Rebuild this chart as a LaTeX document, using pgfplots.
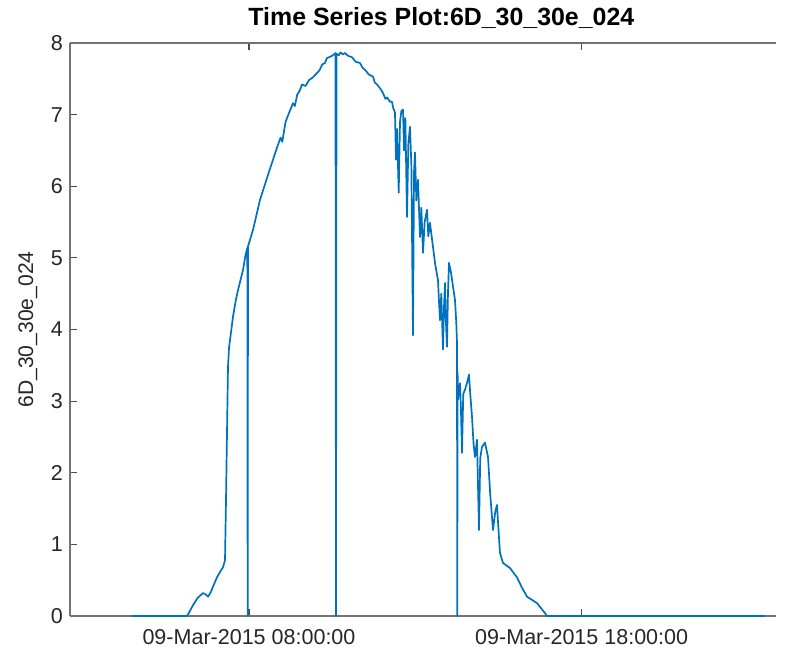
\documentclass[border=0pt]{standalone}
\usepackage{fontspec}
\setmainfont{Liberation Sans}
\usepackage{pgfplots}
\pgfplotsset{compat=1.18}
\definecolor{mblue}{rgb}{0,0.447,0.741}
\begin{document}
\begin{tikzpicture}
\useasboundingbox (-35bp,-16bp) rectangle (358bp,308bp);
\begin{axis}[
  at={(0,0)}, anchor=south west,
  scale only axis,
  width=353bp, height=286.5bp,
  xmin=2.62, xmax=23.84,
  ymin=0, ymax=8,
  axis x line*=box, axis y line*=left,
  xtick={8,18},
  xticklabels={09-Mar-2015 08:00:00, 09-Mar-2015 18:00:00},
  ytick={0,1,2,3,4,5,6,7,8},
  tick align=inside,
  major tick length=3.5bp,
  axis line style={black!55, line width=0.6bp},
  tick style={black!70, line width=0.6bp},
  tick label style={font=\fontsize{10.8}{12}\selectfont, text=black!85},
  /pgf/number format/assume math mode=true,
  xticklabel style={yshift=-3.2bp},
  ylabel={6D\_30\_30e\_024},
  ylabel style={font=\fontsize{10.6}{12}\selectfont, text=black!85},
  title={Time Series Plot:6D\_30\_30e\_024},
  title style={font=\bfseries\fontsize{12.5}{14}\selectfont, at={(rel axis cs:0.526,1)}, anchor=center, yshift=6.5bp},
  clip=false,
]
\addplot[mblue, line width=0.85bp, line join=round] table {
4.483 0
6.136 0
6.20 0.05
6.317 0.15
6.45 0.25
6.617 0.32
6.70 0.30
6.768 0.27
6.85 0.33
6.918 0.41
7.038 0.54
7.15 0.63
7.219 0.68
7.279 0.78
7.309 1.62
7.339 2.56
7.369 3.48
7.40 3.75
7.429 3.85
7.519 4.18
7.60 4.40
7.669 4.55
7.75 4.70
7.820 4.83
7.90 5.05
7.950 5.14
7.960 0
7.970 5.16
8.120 5.39
8.331 5.81
8.60 6.20
8.842 6.54
8.95 6.68
9.00 6.62
9.10 6.90
9.20 7.02
9.323 7.16
9.38 7.12
9.45 7.28
9.52 7.33
9.593 7.42
9.70 7.40
9.80 7.48
9.92 7.52
10.044 7.58
10.12 7.62
10.20 7.70
10.28 7.72
10.344 7.79
10.45 7.81
10.525 7.83
10.60 7.86
10.615 0
10.630 7.85
10.70 7.83
10.75 7.87
10.82 7.84
10.885 7.86
10.98 7.82
11.10 7.80
11.20 7.74
11.336 7.72
11.42 7.65
11.50 7.62
11.60 7.56
11.727 7.53
11.78 7.45
11.85 7.42
11.95 7.36
12.028 7.30
12.10 7.22
12.15 7.24
12.238 7.18
12.298 7.18
12.33 7.10
12.388 7.03
12.418 6.37
12.45 6.80
12.50 5.91
12.539 6.90
12.58 7.05
12.629 7.07
12.66 6.50
12.70 6.95
12.749 5.57
12.79 6.60
12.839 6.83
12.88 6.30
12.929 3.92
12.96 6.20
12.989 6.47
13.03 5.80
13.080 6.09
13.140 5.29
13.18 5.70
13.230 5.07
13.28 5.50
13.350 5.67
13.39 5.30
13.440 5.49
13.531 5.15
13.60 4.90
13.681 4.69
13.71 4.40
13.741 4.13
13.78 4.50
13.831 3.72
13.86 4.30
13.891 4.65
13.92 4.10
13.951 3.76
13.98 4.50
14.011 4.93
14.07 4.80
14.132 4.60
14.192 4.41
14.23 4.10
14.252 3.81
14.26 0
14.270 3.40
14.282 3.02
14.342 3.25
14.37 2.90
14.402 2.28
14.44 3.10
14.492 3.16
14.55 3.25
14.613 3.37
14.65 3.10
14.703 2.78
14.75 2.40
14.793 2.22
14.853 2.46
14.913 1.20
14.95 2.20
15.003 2.36
15.093 2.42
15.184 2.22
15.25 1.70
15.334 1.20
15.40 1.45
15.454 1.55
15.50 1.20
15.544 0.88
15.634 0.74
15.845 0.67
16.055 0.54
16.20 0.40
16.356 0.27
16.656 0.18
16.897 0.04
16.957 0
23.509 0
};
\end{axis}
\end{tikzpicture}
\end{document}
